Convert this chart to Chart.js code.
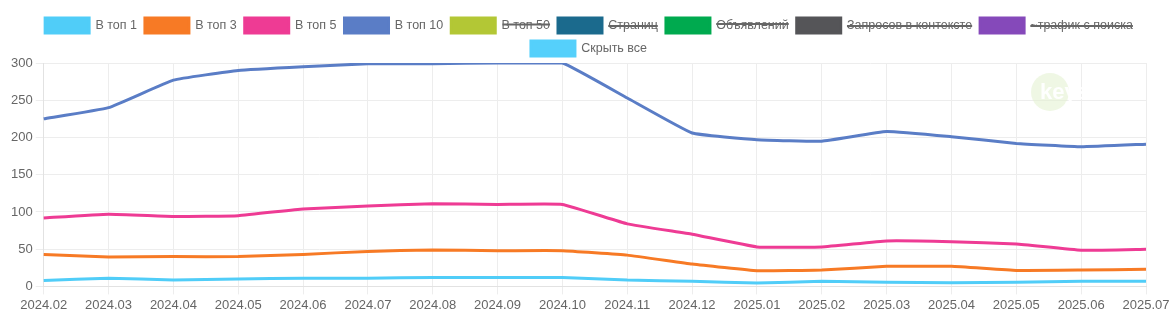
<!DOCTYPE html>
<html>
<head>
<meta charset="utf-8">
<script src="https://cdn.jsdelivr.net/npm/chart.js@4/dist/chart.umd.min.js"></script>
<style>
    html, body { margin: 0; padding: 0; background: #fff; }
    #wrap { width: 1176px; height: 331px; }
</style>
</head>
<body>
<div id="wrap"><canvas id="positionsChart" width="1176" height="331"></canvas></div>
<script>
// Months on the x axis
const months = ['2024.02', '2024.03', '2024.04', '2024.05', '2024.06', '2024.07', '2024.08', '2024.09', '2024.10',
    '2024.11', '2024.12', '2025.01', '2025.02', '2025.03', '2025.04', '2025.05', '2025.06', '2025.07'];

// Visible series
const top1 = [8, 11, 8.5, 10, 11, 11, 12, 12, 12, 8.5, 7, 4.5, 7, 5.5, 5, 5.5, 7, 7];
const top3 = [43, 39.5, 40, 40, 43, 47, 49, 48, 48, 42, 30, 21, 22, 27, 27, 21.5, 22, 23];
const top5 = [92, 97, 94, 95, 104, 108, 111, 110, 110, 84, 70, 53, 53, 61, 60, 57, 48.5, 50];
const top10 = [225, 240, 277, 290, 295, 299, 299, 300, 300, 253, 206, 197, 195, 208, 201, 192, 187.5, 191];

// Y ticks
const yTicks = [0, 50, 100, 150, 200, 250, 300];

const FONT = '"Liberation Sans", Arial, sans-serif';

// Watermark (keys.so logo)
const watermarkPlugin = {
    id: 'watermark',
    beforeDatasetsDraw(chart) {
        const ctx = chart.ctx;
        ctx.save();
        ctx.fillStyle = 'rgba(225, 240, 205, 0.55)';
        ctx.beginPath();
        ctx.arc(1050, 92, 19, 0, Math.PI * 2);
        ctx.fill();
        ctx.fillStyle = 'rgba(255, 255, 255, 0.95)';
        ctx.font = 'bold 22px ' + FONT;
        ctx.textBaseline = 'middle';
        ctx.fillText('keys.so', 1040, 93);
        ctx.restore();
    }
};

// Legend sits a bit lower / more centred without moving the plot
const legendShift = {
    id: 'legendShift',
    beforeLayout(chart) {
        const lg = chart.legend;
        if (lg && !lg._shifted) {
            const fit = lg.fit.bind(lg);
            lg.fit = function () {
                fit();
                this.height -= 3;
            };
            lg._shifted = true;
        }
    },
    afterLayout(chart) {
        chart.legend.left += 12;
        chart.legend.right += 12;
    }
};

function line(label, color, data, hidden) {
    return {
        label: label,
        data: data,
        borderColor: color,
        backgroundColor: color,
        borderWidth: 3,
        pointRadius: 0,
        pointHoverRadius: 0,
        tension: 0.1,
        fill: false,
        hidden: hidden
    };
}

const ctx = document.getElementById('positionsChart').getContext('2d');
const positionsChart = new Chart(ctx, {
    type: 'line',
    data: {
        labels: months,
        datasets: [
            line('В топ 1', '#50cdf8', top1, false),
            line('В топ 3', '#f77a25', top3, false),
            line('В топ 5', '#ee3b94', top5, false),
            line('В топ 10', '#5a7dc6', top10, false),
            line('В топ 50', '#b3c735', [], true),
            line('Страниц', '#1b6a8d', [], true),
            line('Объявлений', '#00aa4f', [], true),
            line('Запросов в контексте', '#555558', [], true),
            line('~трафик с поиска', '#8549ba', [], true),
            line('Скрыть все', '#55d0fb', [], false)
        ]
    },
    options: {
        responsive: false,
        animation: false,
        devicePixelRatio: 1,
        layout: { padding: { left: 8, right: 30, top: 10, bottom: 15 } },
        plugins: {
            legend: {
                position: 'top',
                labels: {
                    boxWidth: 44,
                    boxHeight: 15,
                    padding: 8,
                    color: '#666',
                    font: { family: FONT, size: 12.5 }
                }
            },
            tooltip: { enabled: false }
        },
        scales: {
            x: {
                offset: false,
                grid: { color: '#ededed', tickLength: 8 },
                border: { color: '#e2e2e2' },
                ticks: {
                    color: '#666',
                    maxRotation: 0,
                    autoSkip: false,
                    font: { family: FONT, size: 13 }
                }
            },
            y: {
                min: 0,
                max: 300,
                afterBuildTicks(axis) {
                    axis.ticks = yTicks.map(v => ({ value: v }));
                },
                grid: { color: '#ededed', tickLength: 8 },
                border: { color: '#e2e2e2' },
                ticks: {
                    color: '#666',
                    font: { family: FONT, size: 13 }
                }
            }
        }
    },
    plugins: [watermarkPlugin, legendShift]
});
</script>
</body>
</html>
